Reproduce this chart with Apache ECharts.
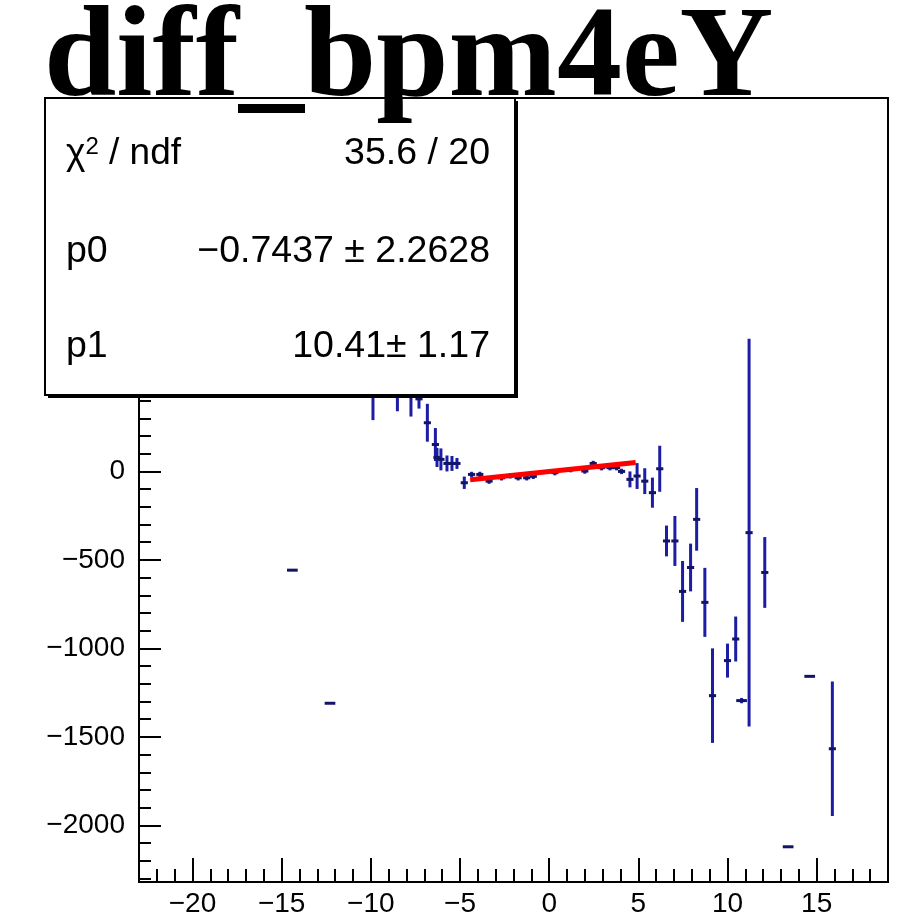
<!DOCTYPE html>
<html>
<head>
<meta charset="utf-8">
<script src="https://cdn.jsdelivr.net/npm/echarts@6/dist/echarts.min.js"></script>
<style>
  html, body { margin: 0; padding: 0; background: #fff; }
  #chart { width: 898px; height: 918px; }
</style>
</head>
<body>
<div id="chart"></div>
<script>
// 数据点 (x, y, x误差, y误差)
const xVals = [-14.40, -12.29, -9.88, -8.51, -7.75, -7.30, -6.83, -6.38, -6.29, -6.07, -5.73, -5.45, -5.17,
  -4.76, -4.35, -3.89, -3.37, -2.67, -2.18, -1.74, -1.26, -0.89, 0.32, 1.21, 2.0, 2.47, 2.94, 3.41, 3.78, 4.06,
  4.53, 4.93, 5.36, 5.79, 6.2, 6.58, 7.05, 7.48, 7.93, 8.27, 8.73, 9.16, 10.0, 10.46, 10.79, 11.21, 12.09,
  13.40, 14.61, 15.88];
const yVals = [-558, -1310, 560, 480, 430, 410, 275, 152, 79, 68, 45, 45, 45,
  -64, -17, -17, -55, -36, -25, -36, -36, -28, -7, 10, 2, 45, 21, 21, 21, 0,
  -45, -26, -55, -120, 15, -393, -393, -678, -543, -271, -740, -1267, -1069, -947, -1295, -346, -571,
  -2121, -1158, -1567];
const xErr = [0.3, 0.3, 0.2, 0.2, 0.2, 0.2, 0.2, 0.2, 0.2, 0.2, 0.2, 0.2, 0.2,
  0.2, 0.2, 0.2, 0.2, 0.2, 0.2, 0.2, 0.2, 0.2, 0.2, 0.2, 0.2, 0.2, 0.2, 0.2, 0.2, 0.2,
  0.2, 0.2, 0.2, 0.2, 0.2, 0.2, 0.2, 0.2, 0.2, 0.2, 0.2, 0.2, 0.2, 0.2, 0.3, 0.2, 0.2,
  0.3, 0.3, 0.2];
const yErr = [0, 0, 270, 140, 120, 55, 107, 93, 54, 62, 45, 42, 31,
  35, 15, 15, 15, 15, 15, 15, 15, 15, 15, 15, 15, 15, 15, 15, 15, 15,
  45, 73, 73, 85, 130, 87, 141, 172, 135, 177, 195, 267, 96, 127, 15, 1095, 200,
  0, 0, 380];

// 拟合直线端点
const fitX = [-4.43, 4.85];
const fitY = [-47, 50];

// 刻度
const xMajorTicks = [-20, -15, -10, -5, 0, 5, 10, 15];
const xMinorTicks = [-22, -21, -19, -18, -17, -16, -14, -13, -12, -11, -9, -8, -7, -6, -4, -3, -2, -1,
  1, 2, 3, 4, 6, 7, 8, 9, 11, 12, 13, 14, 16, 17, 18];
const yMajorTicks = [-2000, -1500, -1000, -500, 0, 500, 1000, 1500, 2000];
const yMinorTicks = [-2300, -2200, -2100, -1900, -1800, -1700, -1600, -1400, -1300, -1200, -1100,
  -900, -800, -700, -600, -400, -300, -200, -100, 100, 200, 300, 400, 600, 700, 800, 900,
  1100, 1200, 1300, 1400, 1600, 1700, 1800, 1900, 2100];

// 统计框文字
const statNames = ['p0', 'p1'];
const statValues = ['35.6 / 20', '\u22120.7437 \u00b1 2.2628', '10.41\u00b1 1.17'];

const chart = echarts.init(document.getElementById('chart'));

const minus = v => String(v).replace('-', '\u2212');
const labelFont = {color: '#000', fontFamily: 'Liberation Sans', fontSize: 28};
const statFont = {fontFamily: 'Liberation Sans', fontSize: 37.5, fill: '#000'};

function renderErr(params, api) {
    const x = api.value(0), y = api.value(1), ex = api.value(2), ey = api.value(3);
    const c = api.coord([x, y]);
    const top = api.coord([x, y + ey]);
    const bot = api.coord([x, y - ey]);
    const l = api.coord([x - ex, y]);
    const r = api.coord([x + ex, y]);
    const children = [];
    if (ey > 0) {
        children.push({type: 'line', shape: {x1: c[0], y1: top[1], x2: c[0], y2: bot[1]},
            style: {stroke: '#1c1ca4', lineWidth: 3}});
    }
    children.push({type: 'line', shape: {x1: l[0], y1: c[1], x2: r[0], y2: c[1]},
        style: {stroke: '#141466', lineWidth: 3}});
    return {type: 'group', children};
}

const xBase = {
    type: 'value', min: -23, max: 19, position: 'bottom',
    splitLine: {show: false},
    axisLine: {show: true, onZero: false, lineStyle: {color: '#000', width: 2}}
};
const yBase = {
    type: 'value', min: -2320, max: 2110, position: 'left',
    splitLine: {show: false},
    axisLine: {show: true, onZero: false, lineStyle: {color: '#000', width: 2}}
};

const option = {
    animation: false,
    backgroundColor: '#fff',
    title: {
        text: 'diff_bpm4eY',
        left: 39, top: -9, z: 20,
        textStyle: {fontFamily: 'Liberation Serif', fontWeight: 'bold', fontSize: 130, color: '#000'}
    },
    grid: {
        left: 139, right: 10, top: 98, bottom: 34,
        show: true, borderColor: '#000', borderWidth: 2, backgroundColor: 'transparent'
    },
    xAxis: [
        Object.assign({}, xBase, {
            axisTick: {inside: true, length: 24, customValues: xMajorTicks, lineStyle: {color: '#000', width: 2}},
            axisLabel: Object.assign({customValues: xMajorTicks, margin: 8, formatter: minus}, labelFont)
        }),
        Object.assign({}, xBase, {
            axisTick: {inside: true, length: 13, customValues: xMinorTicks, lineStyle: {color: '#000', width: 2}},
            axisLabel: {show: false}
        })
    ],
    yAxis: [
        Object.assign({}, yBase, {
            axisTick: {inside: true, length: 22, customValues: yMajorTicks, lineStyle: {color: '#000', width: 2}},
            axisLabel: Object.assign({customValues: yMajorTicks, margin: 14, formatter: minus}, labelFont)
        }),
        Object.assign({}, yBase, {
            axisTick: {inside: true, length: 12, customValues: yMinorTicks, lineStyle: {color: '#000', width: 2}},
            axisLabel: {show: false}
        })
    ],
    series: [
        {
            type: 'custom',
            clip: true,
            renderItem: renderErr,
            encode: {x: 0, y: 1},
            data: xVals.map((x, i) => [x, yVals[i], xErr[i], yErr[i]]),
            z: 3
        },
        {
            type: 'line',
            data: fitX.map((x, i) => [x, fitY[i]]),
            symbol: 'none',
            lineStyle: {color: '#ff0000', width: 5},
            z: 4
        }
    ],
    graphic: [
        {type: 'rect', z: 9, shape: {x: 48, y: 101, width: 470, height: 297}, style: {fill: '#000'}},
        {type: 'rect', z: 10, shape: {x: 45, y: 98, width: 470, height: 297},
            style: {fill: '#fff', stroke: '#000', lineWidth: 2}},
        {type: 'text', z: 11, left: 66, top: 135,
            style: {text: '{a|\u03c7}{s|2}{a| / ndf}', rich: {
                a: {fontFamily: 'Liberation Sans', fontSize: 37, fill: '#000'},
                s: {fontFamily: 'Liberation Sans', fontSize: 24, fill: '#000', verticalAlign: 'top', padding: [0, 0, 14, 0]}
            }}},
        {type: 'text', z: 11, left: 66, top: 233, style: Object.assign({text: statNames[0]}, statFont)},
        {type: 'text', z: 11, left: 66, top: 328, style: Object.assign({text: statNames[1]}, statFont)},
        {type: 'text', z: 11, right: 898 - 490, top: 135, style: Object.assign({text: statValues[0]}, statFont)},
        {type: 'text', z: 11, right: 898 - 490, top: 233, style: Object.assign({text: statValues[1]}, statFont)},
        {type: 'text', z: 11, right: 898 - 490, top: 328, style: Object.assign({text: statValues[2]}, statFont)}
    ]
};

chart.setOption(option);
</script>
</body>
</html>
